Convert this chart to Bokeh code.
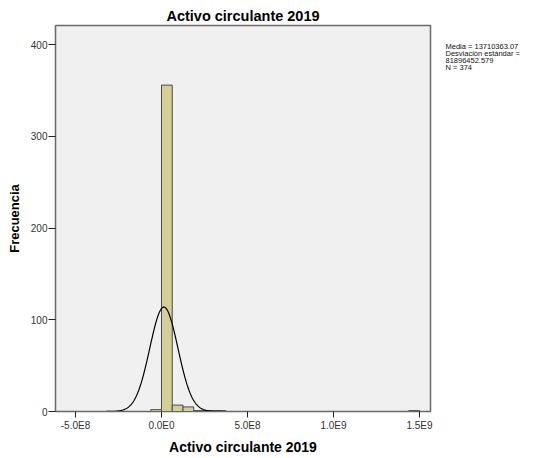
import numpy as np
from bokeh.plotting import figure
from bokeh.models import Range1d, FixedTicker, LinearAxis, ColumnDataSource
from bokeh.embed import file_html
from bokeh.resources import INLINE

# ---- data ----
title_text = "Activo circulante 2019"
x_label = "Activo circulante 2019"
y_label = "Frecuencia"
bin_width = 6.25e7
bin_starts = [-6.25e7, 0.0, 6.25e7, 1.25e8, 1.875e8, 2.5e8, 3.125e8, 1.4375e9]
counts = [2, 356, 7, 5, 1, 1, 1, 1]
mean_val = 13710363.07
sd_val = 81896452.579
n_val = 374
x_ticks = [-5e8, 0, 5e8, 1e9, 1.5e9]
x_tick_labels = ["-5.0E8", "0.0E0", "5.0E8", "1.0E9", "1.5E9"]
y_ticks = [0, 100, 200, 300, 400]
stats_lines = ["Media = 13710363.07", "Desviación estándar =", "81896452.579", "N = 374"]

# ---- layout ----
W, H = 534, 458
ML, MR, MT, MB = 55, 104, 25, 47
X0, X1 = -6.163e8, 1.564e9
Y0, Y1 = 0, 421
FH = H - MT - MB

p = figure(width=W, height=H, output_backend="svg", toolbar_location=None,
           x_range=Range1d(X0, X1), y_range=Range1d(Y0, Y1),
           min_border_left=ML, min_border_right=MR, min_border_top=MT,
           min_border_bottom=MB)
p.background_fill_color = "#f0f0f0"
p.border_fill_color = "white"
p.outline_line_color = "#6a6a6a"
p.outline_line_width = 1.5
p.xgrid.visible = False
p.ygrid.visible = False

p.title.text = title_text
p.title.align = "center"
p.title.text_font = "Liberation Sans"
p.title.text_font_style = "bold"
p.title.text_font_size = "14.5px"
p.title.text_color = "black"
p.title.standoff = 3

lefts = np.array(bin_starts)
src = ColumnDataSource(dict(left=lefts, right=lefts + bin_width,
                            top=np.array(counts, dtype=float),
                            bottom=np.zeros(len(counts))))
p.quad(left="left", right="right", top="top", bottom="bottom", source=src,
       fill_color="#d4cf97", line_color="#4a4a4a", line_width=1)

xs = np.linspace(-4.5e8, 4.5e8, 400)
ys = n_val * bin_width / (sd_val * np.sqrt(2 * np.pi)) * np.exp(-0.5 * ((xs - mean_val) / sd_val) ** 2)
p.line(xs, ys, line_color="black", line_width=1.2)

for ax in (p.xaxis[0], p.yaxis[0]):
    ax.axis_line_color = "#6a6a6a"
    ax.major_tick_line_color = "#222222"
    ax.major_tick_line_width = 1
    ax.minor_tick_line_color = None
    ax.major_tick_in = 0
    ax.major_label_text_font = "Liberation Sans"
    ax.major_label_text_font_size = "10px"
    ax.major_label_text_color = "#333333"
    ax.axis_label_text_font = "Liberation Sans"
    ax.axis_label_text_font_style = "bold"
    ax.axis_label_text_color = "black"

p.xaxis.ticker = FixedTicker(ticks=x_ticks)
p.xaxis.major_label_overrides = {t: l for t, l in zip(x_ticks, x_tick_labels)}
p.xaxis.major_tick_out = 6
p.xaxis.major_label_standoff = 2
p.xaxis.axis_label = x_label
p.xaxis.axis_label_text_font_size = "14px"
p.xaxis.axis_label_standoff = 5

p.yaxis.ticker = FixedTicker(ticks=y_ticks)
p.yaxis.major_tick_out = 7
p.yaxis.major_label_standoff = 1
p.yaxis.axis_label = y_label
p.yaxis.axis_label_text_font_size = "13px"
p.yaxis.axis_label_standoff = 6

# statistics box on the right, drawn as labels of a tick-less right axis
p.extra_y_ranges = {"stats": Range1d(0, FH)}
stat_pos = [411 - (45.8 + i * 7.0) for i in range(len(stats_lines))]
stats_axis = LinearAxis(y_range_name="stats", ticker=FixedTicker(ticks=stat_pos),
                        major_label_overrides={t: s for t, s in zip(stat_pos, stats_lines)})
stats_axis.axis_line_color = None
stats_axis.major_tick_line_color = None
stats_axis.minor_tick_line_color = None
stats_axis.major_tick_in = 0
stats_axis.major_tick_out = 0
stats_axis.major_label_standoff = 15
stats_axis.major_label_text_font = "Liberation Sans"
stats_axis.major_label_text_font_size = "7.5px"
stats_axis.major_label_text_color = "#111111"
p.add_layout(stats_axis, "right")

open("out.html", "w").write(file_html(p, INLINE))
